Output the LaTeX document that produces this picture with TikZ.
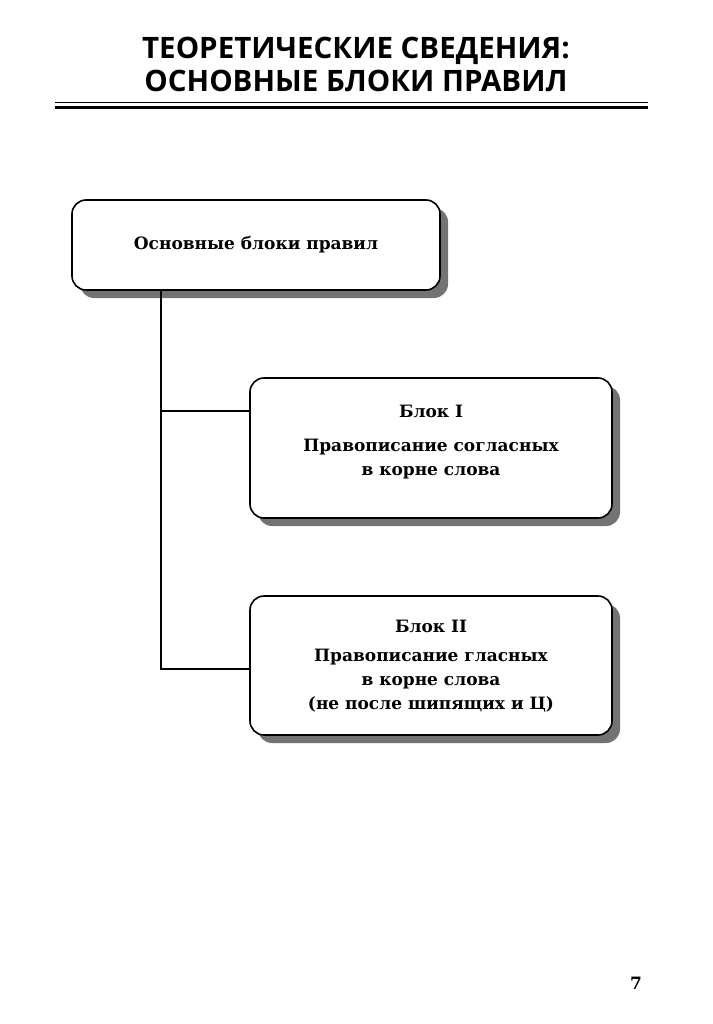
\documentclass[tikz,border=0pt]{standalone}
\usepackage{fontspec}
\setmainfont{DejaVu Serif}
\newfontfamily\titlefont{Open Sans}
\usetikzlibrary{shadows}
\tikzset{
  blk/.style={draw=black, line width=1.6pt, rounded corners=14pt, fill=white,
    inner sep=0pt,
    drop shadow={shadow xshift=8pt, shadow yshift=-8pt, fill=black!55, opacity=1}},
  blktext/.style={align=center, font=\bfseries\fontsize{17}{24}\selectfont, inner sep=0pt},
  conn/.style={line width=2.2pt},
}
\begin{document}
\begin{tikzpicture}[x=1pt,y=-1pt]
\useasboundingbox (0,0) rectangle (712,1024);
\fill[white] (0,0) rectangle (712,1024);
\node[font=\titlefont\bfseries\fontsize{29.5}{33}\selectfont, align=center] (title) at (356,64)
  {ТЕОРЕТИЧЕСКИЕ СВЕДЕНИЯ:\\ОСНОВНЫЕ БЛОКИ ПРАВИЛ};
\coordinate (rl) at (55,0);
\coordinate (rr) at (648,0);
\draw[line width=1pt] (rl |- 0,103) -- (rr |- 0,103);
\draw[line width=3pt] (rl |- 0,107.5) -- (rr |- 0,107.5);
\node[blk, minimum width=368pt, minimum height=90pt] (b0) at (256,245) {};
\node[blktext] (b0t) at (b0) {Основные блоки правил};
\node[blk, minimum width=362pt, minimum height=140pt] (b1) at (431,448) {};
\node[blktext] (b1t) at (431,442)
  {Блок I\\[10pt]Правописание согласных\\в корне слова};
\node[blk, minimum width=362pt, minimum height=139pt] (b2) at (431,665.5) {};
\node[blktext] (b2t) at (431,666)
  {Блок II\\[5pt]Правописание гласных\\в корне слова\\(не после шипящих и Ц)};
\coordinate (t) at (161,0);
\draw[conn] (b0.south -| t) -- (t |- 0,669) -- (b2.west |- 0,669);
\draw[conn] (t |- 0,411) -- (b1.west |- 0,411);
\node[font=\bfseries\fontsize{17}{18}\selectfont] (pg) at (636,983) {7};
\end{tikzpicture}
\end{document}
